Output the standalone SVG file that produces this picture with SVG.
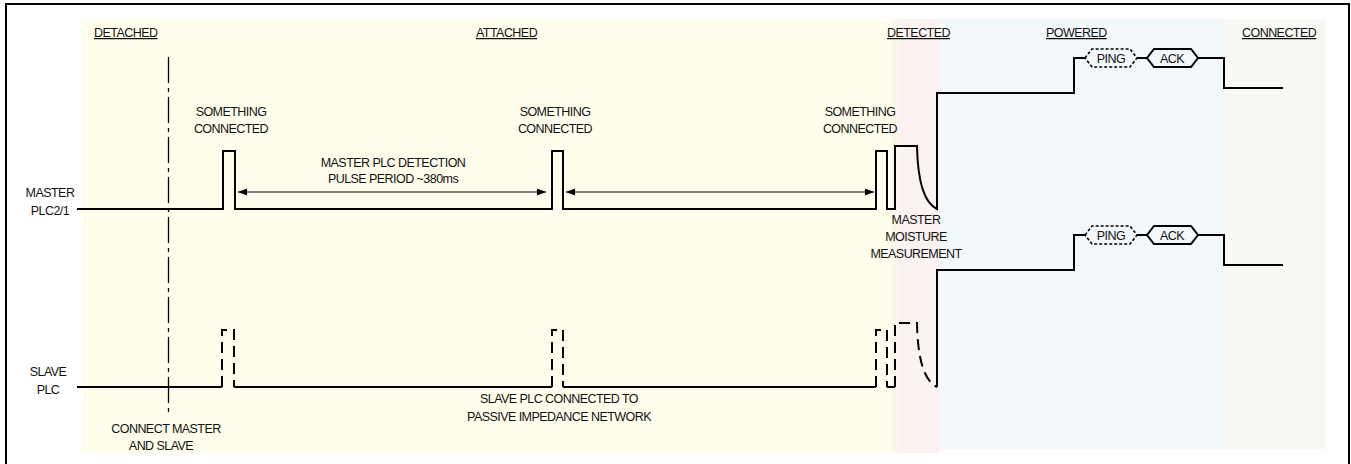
<svg xmlns="http://www.w3.org/2000/svg" width="1351" height="464" viewBox="0 0 1351 464">
<defs>
<style>
.t{font-family:"Liberation Sans",Arial,sans-serif;font-size:12.5px;letter-spacing:-0.55px;fill:#111}
.m{text-anchor:middle}
.h{text-decoration:underline}
.sig{fill:none;stroke:#000;stroke-width:2;stroke-linejoin:miter}
.dsig{fill:none;stroke:#000;stroke-width:2;stroke-dasharray:11,6}
.arr{stroke:#000;stroke-width:1;marker-start:url(#ah);marker-end:url(#ah)}
</style>
<marker id="ah" markerUnits="userSpaceOnUse" markerWidth="10" markerHeight="8" refX="9" refY="3.5" orient="auto-start-reverse">
<path d="M0,0 L9,3.5 L0,7 z" fill="#000"/>
</marker>
</defs>
<rect x="0" y="0" width="1351" height="464" fill="#fff"/>
<g id="phases">
<rect x="82" y="19" width="810" height="434" fill="#FFFEEC"/>
<rect x="892" y="19" width="7" height="434" fill="#FCF7EC"/>
<rect x="899" y="19" width="41" height="434" fill="#FBF2F1"/>
<rect x="940" y="19" width="285" height="430" fill="#F3F8FB"/>
<rect x="1225" y="19" width="101" height="430" fill="#F8F8F4"/>
</g>
<rect id="frame" x="6" y="4" width="1343" height="470" fill="none" stroke="#000" stroke-width="2"/>
<g id="headers">
<text class="t h" x="94" y="37">DETACHED</text>
<text class="t h" x="476" y="37">ATTACHED</text>
<text class="t h" x="887" y="37">DETECTED</text>
<text class="t h" x="1046" y="37">POWERED</text>
<text class="t h" x="1242" y="37">CONNECTED</text>
</g>
<g id="signal-labels">
<text class="t m" x="50" y="197">MASTER</text>
<text class="t m" x="50" y="215">PLC2/1</text>
<text class="t m" x="48" y="376">SLAVE</text>
<text class="t m" x="48" y="394">PLC</text>
</g>
<g id="connect-marker">
<line x1="168.5" y1="57" x2="168.5" y2="417" stroke="#000" stroke-width="1.3" stroke-dasharray="26,5,4,5"/>
<text class="t m" x="166" y="433">CONNECT MASTER</text>
<text class="t m" x="161" y="450">AND SLAVE</text>
</g>
<g id="master">
<path class="sig" d="M77,209 H223 V151 H235 V209 H552 V151 H563 V209 H876 V151 H887 V209 H895 V146 H917 Q918,200 937,209 V93 H1074 V58 H1085"/>
<polygon points="1085,58 1092,49 1130,49 1137,58 1130,67 1092,67" fill="none" stroke="#000" stroke-width="1.6" stroke-dasharray="3,2"/>
<line x1="1137" y1="58" x2="1147" y2="58" stroke="#000" stroke-width="2"/>
<polygon points="1147,58 1154,49 1191,49 1198,58 1191,67 1154,67" fill="none" stroke="#000" stroke-width="2"/>
<path class="sig" d="M1198,58 H1224 V88 H1283"/>
<text class="t m" x="1111" y="63">PING</text>
<text class="t m" x="1172" y="63">ACK</text>
</g>
<g id="slave">
<path class="sig" d="M77,387 H222 M234,387 H552 M563,387 H876 M887,387 H895 M937,387 V270 H1074 V235 H1085"/>
<path class="dsig" d="M222,387 V330 H234 V387"/>
<path class="dsig" d="M552,387 V330 H563 V387"/>
<path class="dsig" d="M876,387 V330 H887 V387"/>
<path class="dsig" d="M895,387 V323 H917 Q918,378 937,387"/>
<polygon points="1085,235 1092,226 1130,226 1137,235 1130,244 1092,244" fill="none" stroke="#000" stroke-width="1.6" stroke-dasharray="3,2"/>
<line x1="1137" y1="235" x2="1147" y2="235" stroke="#000" stroke-width="2"/>
<polygon points="1147,235 1154,226 1191,226 1198,235 1191,244 1154,244" fill="none" stroke="#000" stroke-width="2"/>
<path class="sig" d="M1198,235 H1224 V265 H1283"/>
<text class="t m" x="1111" y="240">PING</text>
<text class="t m" x="1172" y="240">ACK</text>
</g>
<g id="annotations">
<text class="t m" x="231" y="116">SOMETHING</text>
<text class="t m" x="231" y="133">CONNECTED</text>
<text class="t m" x="555" y="116">SOMETHING</text>
<text class="t m" x="555" y="133">CONNECTED</text>
<text class="t m" x="860" y="116">SOMETHING</text>
<text class="t m" x="860" y="133">CONNECTED</text>
<text class="t m" x="393" y="167">MASTER PLC DETECTION</text>
<text class="t m" x="393" y="183">PULSE PERIOD ~380ms</text>
<text class="t m" x="916" y="224">MASTER</text>
<text class="t m" x="916" y="241">MOISTURE</text>
<text class="t m" x="916" y="258">MEASUREMENT</text>
<text class="t m" x="559" y="403">SLAVE PLC CONNECTED TO</text>
<text class="t m" x="559" y="421">PASSIVE IMPEDANCE NETWORK</text>
</g>
<g id="connectors">
<line class="arr" x1="238" y1="192" x2="546" y2="192"/>
<line class="arr" x1="566" y1="192" x2="874" y2="192"/>
</g>
</svg>
